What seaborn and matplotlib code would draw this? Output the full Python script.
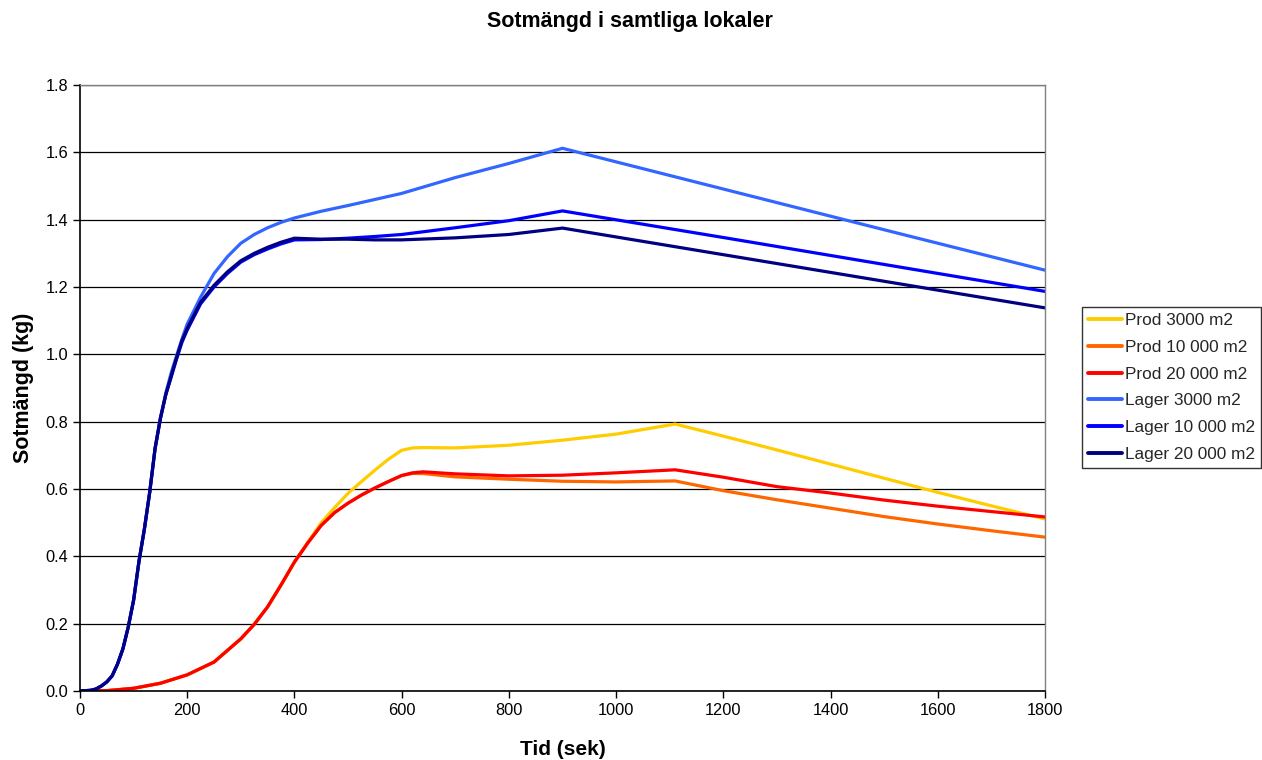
import matplotlib
matplotlib.use("Agg")
import matplotlib.pyplot as plt
import seaborn as sns
import pandas as pd

# Time axis (seconds) for the storage-hall (Lager) runs
lager_t = [0, 20, 30, 40, 50, 60, 70, 80, 90, 100, 110, 120, 130, 140, 150, 160, 170,
           180, 190, 200, 225, 250, 275, 300, 325, 350, 375, 400, 450, 500, 550, 600,
           700, 800, 900, 1200, 1500, 1800]
lager_3000 = [0, 0.002, 0.006, 0.015, 0.027, 0.045, 0.08, 0.125, 0.19, 0.27, 0.385,
              0.48, 0.59, 0.72, 0.81, 0.885, 0.945, 0.995, 1.045, 1.09, 1.17, 1.24,
              1.29, 1.33, 1.356, 1.376, 1.392, 1.405, 1.425, 1.442, 1.46, 1.478,
              1.525, 1.567, 1.612, 1.491, 1.37, 1.25]
lager_10000 = [0, 0.002, 0.006, 0.015, 0.027, 0.045, 0.08, 0.125, 0.19, 0.27, 0.385,
               0.48, 0.59, 0.72, 0.81, 0.88, 0.932, 0.985, 1.035, 1.072, 1.15, 1.2,
               1.24, 1.274, 1.296, 1.313, 1.328, 1.34, 1.341, 1.345, 1.35, 1.356,
               1.376, 1.397, 1.426, 1.347, 1.267, 1.187]
lager_20000 = [0, 0.002, 0.006, 0.015, 0.027, 0.045, 0.08, 0.125, 0.19, 0.27, 0.385,
               0.48, 0.59, 0.72, 0.81, 0.88, 0.935, 0.99, 1.04, 1.077, 1.155, 1.205,
               1.245, 1.278, 1.3, 1.318, 1.333, 1.345, 1.342, 1.342, 1.34, 1.34,
               1.346, 1.356, 1.375, 1.296, 1.217, 1.138]

# Time axis (seconds) for the production-hall (Prod) runs
prod_t = [0, 50, 100, 150, 200, 250, 300, 325, 350, 375, 400, 425, 450, 475, 500,
          525, 550, 575, 600, 620, 640, 700, 800, 900, 1000, 1110, 1200, 1300,
          1400, 1500, 1600, 1700, 1800]
prod_3000 = [0, 0.001, 0.008, 0.023, 0.048, 0.086, 0.155, 0.198, 0.25, 0.315, 0.383,
             0.442, 0.5, 0.545, 0.587, 0.622, 0.656, 0.688, 0.715, 0.722, 0.723,
             0.722, 0.73, 0.745, 0.763, 0.793, 0.757, 0.716, 0.674, 0.632, 0.59,
             0.55, 0.511]
prod_10000 = [0, 0.001, 0.008, 0.023, 0.048, 0.086, 0.155, 0.198, 0.25, 0.315, 0.383,
              0.44, 0.492, 0.53, 0.558, 0.582, 0.603, 0.622, 0.64, 0.646, 0.646,
              0.636, 0.629, 0.623, 0.621, 0.624, 0.595, 0.568, 0.543, 0.518, 0.496,
              0.476, 0.457]
prod_20000 = [0, 0.001, 0.008, 0.023, 0.048, 0.086, 0.155, 0.198, 0.25, 0.315, 0.383,
              0.44, 0.492, 0.53, 0.558, 0.582, 0.603, 0.622, 0.64, 0.648, 0.651,
              0.645, 0.639, 0.641, 0.648, 0.657, 0.635, 0.607, 0.588, 0.567, 0.549,
              0.533, 0.517]

series_names = ["Prod 3000 m2", "Prod 10 000 m2", "Prod 20 000 m2",
                "Lager 3000 m2", "Lager 10 000 m2", "Lager 20 000 m2"]
series_colors = ["#FFCC00", "#FF6600", "#FF0000", "#3366FF", "#0000FF", "#000080"]

x_ticks = [0, 200, 400, 600, 800, 1000, 1200, 1400, 1600, 1800]
y_ticks = [0.0, 0.2, 0.4, 0.6, 0.8, 1.0, 1.2, 1.4, 1.6, 1.8]

frames = []
for name, t, v in [(series_names[0], prod_t, prod_3000),
                   (series_names[1], prod_t, prod_10000),
                   (series_names[2], prod_t, prod_20000),
                   (series_names[3], lager_t, lager_3000),
                   (series_names[4], lager_t, lager_10000),
                   (series_names[5], lager_t, lager_20000)]:
    frames.append(pd.DataFrame({"Tid": t, "Sot": v, "Serie": name}))
df = pd.concat(frames, ignore_index=True)

sns.set_theme(style="white")
plt.rcParams["font.family"] = ["Liberation Sans", "DejaVu Sans"]

fig = plt.figure(figsize=(12.62, 7.6), dpi=100)
ax = fig.add_axes([80 / 1262, 1 - 691 / 760, (1045 - 80) / 1262, (691 - 85) / 760])

sns.lineplot(data=df, x="Tid", y="Sot", hue="Serie", hue_order=series_names,
             palette=dict(zip(series_names, series_colors)), linewidth=2.3,
             ax=ax, legend=False, estimator=None, sort=False)

ax.set_xlim(0, 1800)
ax.set_ylim(0, 1.8)
ax.set_xticks(x_ticks)
ax.set_yticks(y_ticks)
ax.set_yticklabels([f"{v:.1f}" for v in y_ticks])
ax.tick_params(axis="both", direction="out", length=5, width=1, color="black",
               labelsize=11.8, labelcolor="black", bottom=True, left=True)
ax.yaxis.grid(True, color="black", linewidth=0.9)
ax.set_axisbelow(True)
for side in ["left", "bottom"]:
    ax.spines[side].set_color("black")
    ax.spines[side].set_linewidth(1.2)
for side in ["top", "right"]:
    ax.spines[side].set_color("#808080")
    ax.spines[side].set_linewidth(1.0)

ax.set_xlabel("Tid (sek)", fontsize=15, fontweight="bold", color="black", labelpad=16)
ax.set_ylabel("Sotmängd (kg)", fontsize=15.5, fontweight="bold", color="black", labelpad=8)
fig.text(630 / 1262, 1 - 21 / 760, "Sotmängd i samtliga lokaler", ha="center",
         va="center", fontsize=15.5, fontweight="bold", color="black")

handles = [plt.Line2D([], [], color=c, linewidth=2.8) for c in series_colors]
leg = fig.legend(handles, series_names, loc="upper left",
                 bbox_to_anchor=(1082 / 1262, 1 - 307 / 760), frameon=True,
                 fancybox=False, edgecolor="black", fontsize=12.4,
                 handlelength=2.0, handletextpad=0.15, labelspacing=0.68,
                 borderpad=0.35, borderaxespad=0)
leg.get_frame().set_linewidth(1.0)

fig.savefig("out.png", dpi=100)
